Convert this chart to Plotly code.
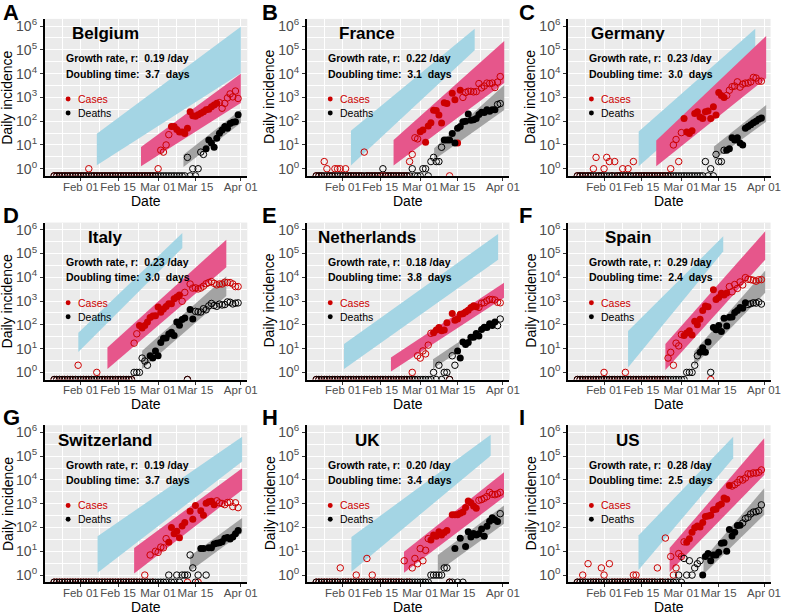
import pandas as pd
import plotly.graph_objects as go

# daily values, one per day from 22 Jan to 31 Mar 2020 (0 = no report)
DATES = pd.date_range("2020-01-22", "2020-03-31", freq="D")

COUNTRIES = ["Belgium", "France", "Germany", "Italy", "Netherlands", "Spain",
             "Switzerland", "UK", "US"]
LETTERS = ["A", "B", "C", "D", "E", "F", "G", "H", "I"]
GROWTH_RATES = ["0.19", "0.22", "0.23", "0.23", "0.18", "0.29", "0.19", "0.20", "0.28"]
DOUBLING_TIMES = ["3.7", "3.1", "3.0", "3.0", "3.8", "2.4", "3.7", "3.4", "2.5"]

BEL_CASES = [0, 0, 0, 0, 0, 0, 0, 0, 0, 0,
             0, 0, 0, 1, 0, 0, 0, 0, 0, 0,
             0, 0, 0, 0, 0, 0, 0, 0, 0, 0,
             0, 0, 0, 0, 0, 0, 0, 0, 0, 1,
             6, 5, 10, 27, 60, 60, 45, 35, 35, 30,
             50, 250, 170, 160, 185, 215, 250, 300, 320, 400,
             480, 560, 600, 350, 560, 950, 1400, 1050, 1850, 900]
BEL_DEATHS = [0, 0, 0, 0, 0, 0, 0, 0, 0, 0,
              0, 0, 0, 0, 0, 0, 0, 0, 0, 0,
              0, 0, 0, 0, 0, 0, 0, 0, 0, 0,
              0, 0, 0, 0, 0, 0, 0, 0, 0, 0,
              0, 0, 0, 0, 0, 0, 0, 0, 0, 0,
              3, 0, 1, 0, 1, 5, 4, 7, 16, 12,
              8, 19, 31, 43, 60, 50, 80, 90, 95, 185]

FRA_CASES = [0, 0, 0, 2, 1, 0, 0, 1, 1, 1,
             0, 1, 0, 0, 0, 0, 0, 0, 5, 0,
             0, 0, 0, 0, 0, 0, 0, 0, 0, 0,
             0, 0, 0, 0, 0, 2, 4, 20, 18, 36,
             43, 13, 63, 85, 290, 280, 180, 83, 600, 550,
             0, 1500, 800, 12, 2000, 1000, 1600, 1800, 1800, 1700,
             1750, 3800, 2500, 3000, 4000, 3800, 4000, 2600, 4400, 7500]
FRA_DEATHS = [0, 0, 0, 0, 0, 0, 0, 0, 0, 0,
              0, 0, 0, 0, 0, 0, 0, 0, 0, 0,
              0, 0, 0, 0, 0, 1, 0, 0, 0, 0,
              0, 0, 0, 0, 0, 0, 1, 0, 0, 0,
              1, 1, 0, 2, 3, 2, 2, 8, 16, 16,
              16, 30, 12, 50, 60, 95, 100, 200, 110, 115,
              130, 190, 240, 230, 300, 260, 300, 300, 500, 550]

DEU_CASES = [0, 0, 0, 0, 0, 0, 1, 3, 0, 0,
             1, 3, 2, 0, 2, 0, 0, 1, 0, 1,
             0, 2, 0, 0, 0, 0, 0, 0, 0, 0,
             0, 0, 0, 0, 0, 1, 10, 17, 2, 33,
             130, 35, 30, 40, 210, 250, 150, 130, 250, 270,
             130, 400, 180, 1600, 1200, 1000, 1200, 2000, 2800, 3000,
             4500, 2700, 3600, 4000, 4000, 4500, 6900, 6500, 4800, 4800]
DEU_DEATHS = [0, 0, 0, 0, 0, 0, 0, 0, 0, 0,
              0, 0, 0, 0, 0, 0, 0, 0, 0, 0,
              0, 0, 0, 0, 0, 0, 0, 0, 0, 0,
              0, 0, 0, 0, 0, 0, 0, 0, 0, 0,
              0, 0, 0, 0, 0, 0, 0, 0, 2, 0,
              1, 0, 4, 2, 2, 6, 6, 7, 20, 16,
              20, 12, 10, 50, 60, 70, 85, 100, 120, 135]

ITA_CASES = [0, 0, 0, 0, 0, 0, 0, 0, 0, 2,
             0, 0, 0, 0, 0, 0, 1, 0, 0, 0,
             0, 0, 0, 0, 0, 0, 0, 0, 0, 0,
             17, 42, 93, 74, 93, 131, 202, 233, 240, 566,
             342, 466, 587, 769, 778, 1247, 1492, 1797, 977, 2313,
             0, 5198, 3497, 3590, 3233, 3526, 4207, 5322, 5986, 6557,
             5560, 4789, 5249, 5210, 6153, 5959, 5974, 5217, 4050, 4053]
ITA_DEATHS = [0, 0, 0, 0, 0, 0, 0, 0, 0, 0,
              0, 0, 0, 0, 0, 0, 0, 0, 0, 0,
              0, 0, 0, 0, 0, 0, 0, 0, 0, 0,
              1, 1, 1, 4, 3, 2, 5, 4, 8, 5,
              18, 27, 28, 41, 49, 36, 133, 97, 168, 196,
              0, 439, 175, 368, 349, 345, 475, 427, 627, 793,
              651, 601, 743, 683, 712, 919, 889, 756, 812, 837]

NLD_CASES = [0, 0, 0, 0, 0, 0, 0, 0, 0, 0,
             0, 0, 0, 0, 0, 0, 0, 0, 0, 0,
             0, 0, 0, 0, 0, 0, 0, 0, 0, 0,
             0, 0, 0, 0, 0, 0, 1, 0, 5, 4,
             8, 6, 14, 44, 46, 60, 77, 56, 61, 121,
             0, 301, 155, 176, 278, 292, 346, 409, 534, 637,
             573, 545, 811, 852, 1019, 1172, 1159, 1104, 884, 845]
NLD_DEATHS = [0, 0, 0, 0, 0, 0, 0, 0, 0, 0,
              0, 0, 0, 0, 0, 0, 0, 0, 0, 0,
              0, 0, 0, 0, 0, 0, 0, 0, 0, 0,
              0, 0, 0, 0, 0, 0, 0, 0, 0, 0,
              0, 0, 0, 0, 1, 0, 2, 0, 1, 1,
              0, 5, 2, 8, 4, 19, 15, 18, 30, 30,
              43, 34, 63, 80, 78, 112, 93, 132, 93, 176]

ESP_CASES = [0, 0, 0, 0, 0, 0, 0, 0, 0, 0,
             1, 0, 0, 0, 0, 0, 0, 0, 1, 0,
             0, 0, 0, 0, 0, 0, 0, 0, 0, 0,
             0, 0, 0, 0, 4, 7, 2, 17, 13, 39,
             36, 45, 57, 37, 141, 100, 173, 400, 622, 582,
             0, 2955, 1159, 1407, 2144, 1806, 2162, 4053, 2447, 4964,
             3394, 6368, 4749, 9630, 8271, 7933, 7516, 6875, 7846, 7967]
ESP_DEATHS = [0, 0, 0, 0, 0, 0, 0, 0, 0, 0,
              0, 0, 0, 0, 0, 0, 0, 0, 0, 0,
              0, 0, 0, 0, 0, 0, 0, 0, 0, 0,
              0, 0, 0, 0, 0, 0, 0, 0, 0, 0,
              0, 1, 1, 1, 2, 5, 7, 11, 7, 19,
              1, 78, 62, 94, 53, 191, 90, 207, 213, 332,
              397, 539, 497, 839, 718, 773, 844, 821, 913, 748]

CHE_CASES = [0, 0, 0, 0, 0, 0, 0, 0, 0, 0,
             0, 0, 0, 0, 0, 0, 0, 0, 0, 0,
             0, 0, 0, 0, 0, 0, 0, 0, 0, 0,
             0, 0, 0, 0, 1, 0, 7, 0, 10, 9,
             15, 14, 34, 24, 100, 54, 69, 37, 117, 161,
             0, 487, 220, 841, 0, 500, 328, 1047, 1219, 1281,
             899, 1321, 1082, 1020, 914, 1117, 1148, 753, 1093, 683]
CHE_DEATHS = [0, 0, 0, 0, 0, 0, 0, 0, 0, 0,
              0, 0, 0, 0, 0, 0, 0, 0, 0, 0,
              0, 0, 0, 0, 0, 0, 0, 0, 0, 0,
              0, 0, 0, 0, 0, 0, 0, 0, 0, 0,
              0, 0, 0, 1, 0, 0, 1, 0, 1, 1,
              1, 7, 2, 0, 1, 13, 13, 1, 14, 14,
              20, 22, 23, 25, 35, 38, 33, 40, 55, 74]

GBR_CASES = [0, 0, 0, 0, 0, 0, 0, 0, 0, 2,
             0, 0, 0, 0, 0, 1, 0, 0, 0, 5,
             0, 1, 0, 0, 0, 0, 0, 0, 0, 0,
             0, 0, 0, 4, 0, 0, 2, 5, 3, 13,
             4, 11, 34, 30, 48, 43, 67, 48, 61, 74,
             0, 340, 340, 340, 400, 450, 700, 1300, 1100, 800,
             650, 1400, 1500, 1700, 2000, 3000, 2500, 2400, 2600, 3000]
GBR_DEATHS = [0, 0, 0, 0, 0, 0, 0, 0, 0, 0,
              0, 0, 0, 0, 0, 0, 0, 0, 0, 0,
              0, 0, 0, 0, 0, 0, 0, 0, 0, 0,
              0, 0, 0, 0, 0, 0, 0, 0, 0, 0,
              0, 0, 0, 1, 1, 1, 1, 1, 2, 2,
              0, 0, 13, 0, 35, 0, 16, 66, 40, 56,
              48, 54, 87, 43, 114, 181, 260, 210, 180, 382]

USA_CASES = [0, 0, 1, 0, 3, 0, 0, 0, 0, 2,
             1, 0, 3, 0, 0, 0, 0, 0, 0, 0,
             0, 1, 1, 0, 0, 0, 0, 0, 0, 0,
             2, 0, 0, 36, 0, 6, 1, 2, 8, 6,
             25, 24, 34, 63, 98, 116, 106, 163, 290, 307,
             329, 553, 587, 843, 983, 1748, 1525, 5864, 5534, 6329,
             7676, 10571, 9893, 12038, 18058, 17821, 19808, 19444, 20922, 26341]
USA_DEATHS = [0, 0, 0, 0, 0, 0, 0, 0, 0, 0,
              0, 0, 0, 0, 0, 0, 0, 0, 0, 0,
              0, 0, 0, 0, 0, 0, 0, 0, 0, 0,
              0, 0, 0, 0, 0, 0, 0, 0, 1, 0,
              5, 1, 4, 1, 2, 3, 4, 1, 6, 8,
              4, 7, 7, 9, 22, 23, 10, 82, 44, 63,
              120, 125, 154, 236, 267, 372, 445, 459, 511, 895]

CASES = [BEL_CASES, FRA_CASES, DEU_CASES, ITA_CASES, NLD_CASES, ESP_CASES,
         CHE_CASES, GBR_CASES, USA_CASES]
DEATHS = [BEL_DEATHS, FRA_DEATHS, DEU_DEATHS, ITA_DEATHS, NLD_DEATHS, ESP_DEATHS,
          CHE_DEATHS, GBR_DEATHS, USA_DEATHS]

# days used for the fit (drawn filled), first and last day
CASE_FIT = [["2020-03-06", "2020-03-23"], ["2020-03-01", "2020-03-16"],
            ["2020-03-02", "2020-03-17"], ["2020-02-23", "2020-03-09"],
            ["2020-03-06", "2020-03-22"], ["2020-03-02", "2020-03-18"],
            ["2020-03-05", "2020-03-22"], ["2020-03-05", "2020-03-22"],
            ["2020-03-03", "2020-03-19"]]
DEATH_FIT = [["2020-03-19", "2020-03-31"], ["2020-03-10", "2020-03-29"],
             ["2020-03-18", "2020-03-31"], ["2020-02-27", "2020-03-14"],
             ["2020-03-15", "2020-03-29"], ["2020-03-08", "2020-03-25"],
             ["2020-03-17", "2020-03-31"], ["2020-03-14", "2020-03-30"],
             ["2020-03-09", "2020-03-23"]]
DEATH_FIT_SKIP = {"Spain": ["2020-03-12"], "Switzerland": ["2020-03-19"]}

# bands: start, end, log10 low/high at start, log10 low/high at end
BLUE_BANDS = [
    ["2020-02-07", "2020-04-01", 0.15, 1.47, 4.01, 5.97],
    ["2020-02-04", "2020-03-21 10:00", 0.14, 1.60, 4.98, 5.89],
    ["2020-02-14", "2020-03-28 17:00", 0.10, 1.57, 4.42, 5.89],
    ["2020-01-31 02:00", "2020-03-10 02:00", 0.86, 1.67, 5.23, 5.86],
    ["2020-02-01 10:00", "2020-03-30 05:00", 0.14, 1.19, 4.74, 5.82],
    ["2020-02-10", "2020-03-16 17:00", 0.21, 1.74, 5.09, 5.72],
    ["2020-02-07 07:00", "2020-04-01 12:00", 0.10, 1.63, 4.77, 5.82],
    ["2020-02-04 05:00", "2020-03-27 10:00", 0.14, 1.60, 5.02, 5.90],
    ["2020-02-13 22:00", "2020-03-20 10:00", 0.21, 1.66, 4.91, 5.82],
]
PINK_BANDS = [
    ["2020-02-23 14:00", "2020-04-01", 0.10, 0.91, 2.76, 3.99],
    ["2020-02-20", "2020-04-01 12:00", 0.14, 1.21, 3.61, 5.37],
    ["2020-02-20 14:00", "2020-04-01 19:00", 0.10, 1.19, 3.80, 5.58],
    ["2020-02-11", "2020-03-26 14:00", 0.14, 1.05, 4.42, 5.58],
    ["2020-02-19", "2020-04-01 10:00", 0.04, 0.63, 3.14, 3.77],
    ["2020-02-24", "2020-04-01 10:00", 0.10, 1.19, 4.74, 5.93],
    ["2020-02-21", "2020-04-01 12:00", 0.07, 1.14, 3.58, 4.49],
    ["2020-02-23 22:00", "2020-04-01 10:00", 0.10, 0.98, 3.28, 4.32],
    ["2020-02-25 14:00", "2020-04-01 02:00", 0.13, 1.14, 4.21, 5.75],
]
GREY_BANDS = [
    ["2020-03-10 12:00", "2020-04-01", 0.07, 0.59, 1.92, 2.48],
    ["2020-03-06 05:00", "2020-04-01 12:00", 0.38, 0.86, 2.47, 3.52],
    ["2020-03-13 05:00", "2020-04-01 19:00", 0.38, 0.94, 1.98, 2.68],
    ["2020-02-24", "2020-03-26 14:00", 0.14, 0.91, 3.21, 4.04],
    ["2020-03-05 19:00", "2020-03-15 17:00", 0.15, 0.55, 0.90, 1.30],
    ["2020-03-05 19:00", "2020-04-01 10:00", 0.28, 0.88, 3.35, 4.28],
    ["2020-03-13", "2020-04-01 12:00", 0.17, 0.80, 1.77, 2.40],
    ["2020-03-07 14:00", "2020-04-01 10:00", 0.14, 0.84, 2.16, 2.93],
    ["2020-03-09 07:00", "2020-04-01 02:00", 0.03, 0.66, 2.54, 3.65],
]

Y_RANGE = [-0.3, 6.3]
Y_TICKS = [1, 10, 100, 1000, 10000, 100000, 1000000]
Y_TICKTEXT = ["10<sup>0</sup>", "10<sup>1</sup>", "10<sup>2</sup>", "10<sup>3</sup>",
              "10<sup>4</sup>", "10<sup>5</sup>", "10<sup>6</sup>"]
Y_MINOR = [3.16, 31.6, 316, 3162, 31623, 316228, 1.0]
X_TICKS = ["2020-02-01", "2020-02-15", "2020-03-01", "2020-03-15", "2020-04-01"]
X_TICKTEXT = ["Feb 01", "Feb 15", "Mar 01", "Mar 15", "Apr 01"]
X_MINOR = ["2020-01-25", "2020-02-08", "2020-02-22 12:00", "2020-03-08", "2020-03-23 12:00"]

RED = "#cc0000"
BLACK = "#000000"
BLUE = "#a4d5e4"
PINK = "#e6568b"
GREY = "#a3a3a3"
FONT = "Liberation Sans, Arial, sans-serif"

# page geometry in pixels
W, H = 787, 614
COL_LEFT = [45.5, 311, 575.5]
ROW_TOP = [16, 221, 425]
PANEL_W, PANEL_H = 205, 158
LETTER_X = [1, 263, 524]
LETTER_DY = [-6.5, -7.5, -7.5]


def px(x):
    return x / W


def py(y):
    return 1 - y / H


def split_points(values, window, skip):
    s = pd.Series(values, index=DATES, dtype=float)
    fit = (DATES >= window[0]) & (DATES <= window[1]) & (s.values > 0)
    fit &= ~DATES.isin(pd.to_datetime(skip))
    y = s.where(s > 0, 10 ** Y_RANGE[0])  # zero counts sit on the bottom edge
    return (DATES[fit], y[fit]), (DATES[~fit], y[~fit])


fig = go.Figure()
annotations, shapes = [], []
x_pad = pd.Timedelta(days=3.45)

for i, country in enumerate(COUNTRIES):
    r, c = divmod(i, 3)
    xa = "x" if i == 0 else f"x{i + 1}"
    ya = "y" if i == 0 else f"y{i + 1}"
    left, top = COL_LEFT[c], ROW_TOP[r]

    for band, color in ((BLUE_BANDS[i], BLUE), (PINK_BANDS[i], PINK), (GREY_BANDS[i], GREY)):
        s, e, lo0, hi0, lo1, hi1 = band
        fig.add_trace(go.Scatter(x=[s, e, e, s], y=[10 ** lo0, 10 ** lo1, 10 ** hi1, 10 ** hi0],
                                 fill="toself", fillcolor=color, mode="lines",
                                 line=dict(width=0), hoverinfo="skip",
                                 xaxis=xa, yaxis=ya))

    for values, window, skip, color in (
            (CASES[i], CASE_FIT[i], [], RED),
            (DEATHS[i], DEATH_FIT[i], DEATH_FIT_SKIP.get(country, []), BLACK)):
        (fx, fy), (ox, oy) = split_points(values, window, skip)
        fig.add_trace(go.Scatter(x=ox, y=oy, mode="markers", xaxis=xa, yaxis=ya,
                                 marker=dict(symbol="circle-open", size=6.5, color=color,
                                             line=dict(width=1, color=color))))
        fig.add_trace(go.Scatter(x=fx, y=fy, mode="markers", xaxis=xa, yaxis=ya,
                                 marker=dict(symbol="circle", size=7, color=color)))

    key = "xaxis" if i == 0 else f"xaxis{i + 1}"
    fig.layout[key] = dict(
        domain=[px(left), px(left + PANEL_W)], anchor=ya, type="date",
        range=[DATES[0] - x_pad, DATES[-1] + x_pad],
        tickmode="array", tickvals=X_TICKS, ticktext=X_TICKTEXT, tickangle=0,
        ticklabelstandoff=-4,
        showgrid=True, gridcolor="white", gridwidth=1.1,
        minor=dict(tickmode="array", tickvals=X_MINOR, showgrid=True,
                   gridcolor="white", gridwidth=0.5),
        showline=True, linecolor="black", linewidth=2,
        ticks="outside", ticklen=3, tickcolor="#333333",
        tickfont=dict(size=11.5, color="#4d4d4d", family=FONT),
        zeroline=False, fixedrange=True)
    key = "yaxis" if i == 0 else f"yaxis{i + 1}"
    fig.layout[key] = dict(
        domain=[py(top + PANEL_H), py(top)], anchor=xa, type="log", range=Y_RANGE,
        tickmode="array", tickvals=Y_TICKS, ticktext=Y_TICKTEXT,
        showgrid=True, gridcolor="white", gridwidth=1.1,
        minor=dict(tickmode="array", tickvals=Y_MINOR, showgrid=True,
                   gridcolor="white", gridwidth=0.5),
        showline=True, linecolor="black", linewidth=2,
        ticks="outside", ticklen=3, tickcolor="#333333",
        tickfont=dict(size=14, color="#4d4d4d", family=FONT),
        zeroline=False, fixedrange=True)

    def note(text, x, y, size, color="black", bold=False, xanchor="center", angle=0):
        annotations.append(dict(
            text=f"<b>{text}</b>" if bold else text, x=px(x), y=py(y),
            xref="paper", yref="paper", xanchor=xanchor, yanchor="middle",
            showarrow=False, textangle=angle,
            font=dict(size=size, color=color, family=FONT)))

    note(LETTERS[i], LETTER_X[c], top + LETTER_DY[r], 22, bold=True, xanchor="left")
    note(country, left + 61, top + 15, 17, bold=True)
    note(f"Growth rate, r:\u00a0\u00a0{GROWTH_RATES[i]} /day", left + 19.5, top + 39.7, 10.5,
         bold=True, xanchor="left")
    note(f"Doubling time:\u00a0\u00a0{DOUBLING_TIMES[i]}\u00a0\u00a0days", left + 19.5, top + 55,
         10.5, bold=True, xanchor="left")
    note("Cases", left + 31.5, top + 80.7, 10.5, color=RED, xanchor="left")
    note("Deaths", left + 31.5, top + 94.7, 10.5, xanchor="left")
    for yy, color in ((top + 80.7, RED), (top + 94.7, BLACK)):
        shapes.append(dict(type="circle", xref="paper", yref="paper",
                           x0=px(left + 21), x1=px(left + 26),
                           y0=py(yy + 2.5), y1=py(yy - 2.5),
                           fillcolor=color, line=dict(width=0)))
    note("Daily incidence", left - 38, top + PANEL_H / 2, 14, angle=-90)
    note("Date", left + PANEL_W / 2, top + PANEL_H + 25, 14)

fig.update_layout(
    width=W, height=H, margin=dict(l=0, r=0, t=0, b=0),
    paper_bgcolor="white", plot_bgcolor="#ebebeb",
    showlegend=False, annotations=annotations, shapes=shapes,
    font=dict(family=FONT))

# the page's default 8px body margin would push the figure off the window
fig.write_html("out.html", config={"displayModeBar": False},
               post_script="document.body.style.margin = '0';")
